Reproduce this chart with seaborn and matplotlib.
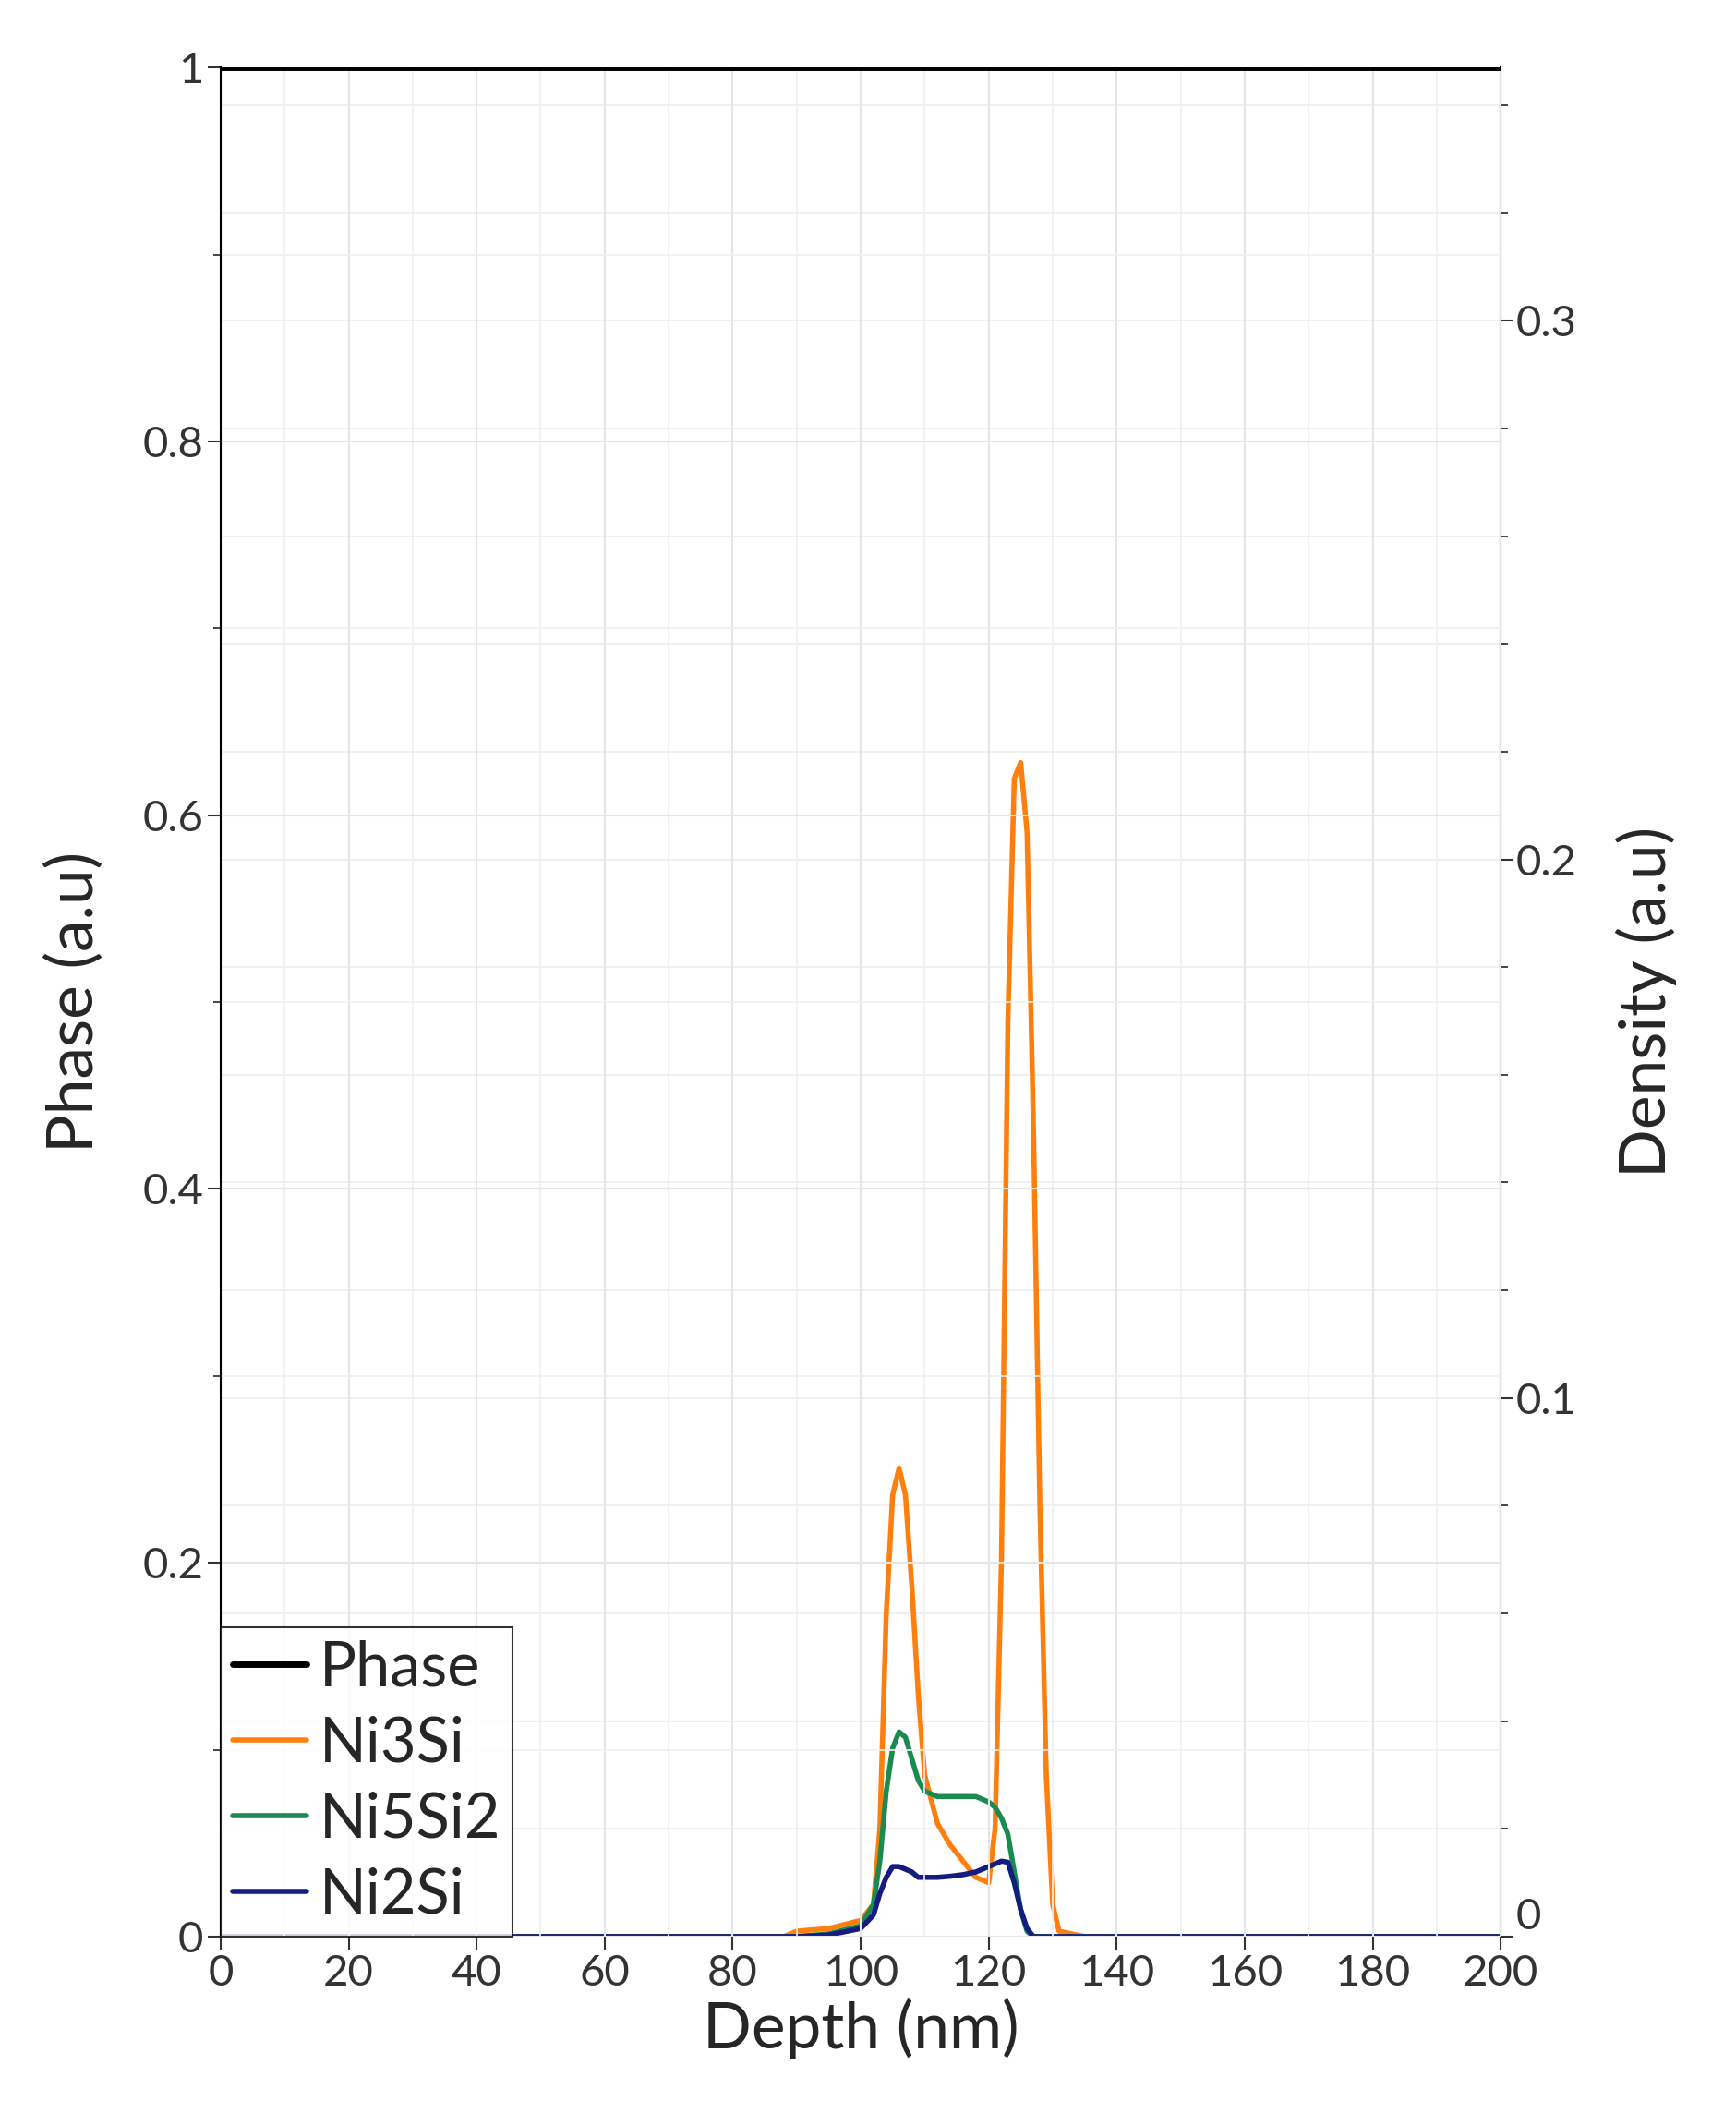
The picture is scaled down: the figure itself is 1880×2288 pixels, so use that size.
import numpy as np
import matplotlib
matplotlib.use("Agg")
import matplotlib.pyplot as plt
import seaborn as sns
from matplotlib.ticker import MultipleLocator
import pandas as pd

sns.set_theme(style="white")
plt.rcParams['font.family'] = ['Lato', 'DejaVu Sans']

depth = [0, 45, 88, 90, 95, 100, 102, 103, 104, 105, 106, 107, 108, 109, 110, 112, 114, 116, 118, 120, 121, 122,
         123, 124, 125, 126, 127, 128, 129, 130, 131, 135, 200]
ni3si = [0, 0, 0, 0.001, 0.0015, 0.003, 0.006, 0.02, 0.06, 0.082, 0.087, 0.082, 0.065, 0.045, 0.03, 0.021, 0.017,
         0.014, 0.011, 0.01, 0.02, 0.07, 0.17, 0.215, 0.218, 0.205, 0.15, 0.08, 0.03, 0.006, 0.001, 0, 0]
ni5si2 = [0, 0, 0, 0, 0.0005, 0.002, 0.006, 0.014, 0.027, 0.035, 0.038, 0.037, 0.033, 0.029, 0.027, 0.026, 0.026,
          0.026, 0.026, 0.025, 0.024, 0.022, 0.019, 0.012, 0.005, 0.001, 0, 0, 0, 0, 0, 0, 0]
ni2si = [0, 0, 0, 0, 0.0003, 0.0015, 0.004, 0.008, 0.011, 0.013, 0.013, 0.0125, 0.012, 0.011, 0.011, 0.011, 0.0112,
         0.0115, 0.012, 0.013, 0.0135, 0.014, 0.0138, 0.01, 0.005, 0.0015, 0, 0, 0, 0, 0, 0, 0]
phase_x = [0, 200]
phase_y = [1, 1]

fig = plt.figure(figsize=(18.81, 22.88), dpi=100)
ax = fig.add_axes([0.127, 0.0835, 0.731 + 0.006, 0.8845])
ax2 = ax.twinx()

ax.set_xlim(0, 200)
ax.set_ylim(0, 1)
ax2.set_ylim(0, 0.347)

ax.xaxis.set_major_locator(MultipleLocator(20))
ax.xaxis.set_minor_locator(MultipleLocator(10))
ax.yaxis.set_major_locator(MultipleLocator(0.2))
ax.yaxis.set_minor_locator(MultipleLocator(0.1))
ax2.yaxis.set_major_locator(MultipleLocator(0.1))
ax2.yaxis.set_minor_locator(MultipleLocator(0.02))

ax.grid(which='major', color='#e6e6e6', lw=1.5)
ax.grid(which='minor', color='#f0f0f0', lw=1.2)
ax2.grid(which='both', axis='y', color='#eeeeee', lw=1.2)
ax2.grid(False, axis='x')

l0, = ax.plot(phase_x, phase_y, color='black', lw=5, label='Phase')
df = pd.DataFrame({'depth': depth, 'Ni3Si': ni3si, 'Ni5Si2': ni5si2, 'Ni2Si': ni2si})
sns.lineplot(data=df, x='depth', y='Ni3Si', ax=ax2, color='#ff7f0e', lw=4, label='Ni3Si', legend=False)
sns.lineplot(data=df, x='depth', y='Ni5Si2', ax=ax2, color='#1a8a50', lw=4, label='Ni5Si2', legend=False)
sns.lineplot(data=df, x='depth', y='Ni2Si', ax=ax2, color='#141c80', lw=4, label='Ni2Si', legend=False)

for a in (ax, ax2):
    for s in a.spines.values():
        s.set_visible(False)
ax.spines['left'].set_visible(True); ax.spines['left'].set_color('black'); ax.spines['left'].set_linewidth(1.5)
ax2.spines['right'].set_visible(True); ax2.spines['right'].set_color('black'); ax2.spines['right'].set_linewidth(1.5)

ax.tick_params(axis='both', which='major', length=10, width=1.5, labelsize=34, color='#333333', labelcolor='#333333',
               direction='out', left=True, bottom=True)
ax.tick_params(axis='y', which='minor', length=6, width=1.2, left=True)
ax2.tick_params(axis='y', which='major', length=10, width=1.5, labelsize=34, color='#333333', labelcolor='#333333',
                direction='out', right=True, pad=2)
ax2.tick_params(axis='y', which='minor', length=6, width=1.2, right=True)

ax.set_yticks([0, 0.2, 0.4, 0.6, 0.8, 1])
ax.set_yticklabels(['0', '0.2', '0.4', '0.6', '0.8', '1'])
ax2.set_yticks([0, 0.1, 0.2, 0.3])
ax2.set_yticklabels(['0', '0.1', '0.2', '0.3'])
ax2.get_yticklabels()[0].set_verticalalignment('bottom')

ax.set_xlabel('Depth (nm)', fontsize=50, labelpad=4)
ax.set_ylabel('Phase (a.u)', fontsize=50, labelpad=30)
ax2.set_ylabel('Density (a.u)', fontsize=50, labelpad=30)

handles = [l0] + ax2.get_lines()[:3]
leg = ax.legend(handles, ['Phase', 'Ni3Si', 'Ni5Si2', 'Ni2Si'], loc='lower left', fontsize=48,
                frameon=True, fancybox=False, edgecolor='black', handlelength=1.2, handletextpad=0.2,
                borderpad=0.2, labelspacing=0.3, borderaxespad=0)
leg.get_frame().set_linewidth(1.5)
leg.set_zorder(10)
ax.set_zorder(ax2.get_zorder() + 1)
ax.patch.set_visible(False)

fig.savefig('out.png', dpi=100, facecolor='white')
